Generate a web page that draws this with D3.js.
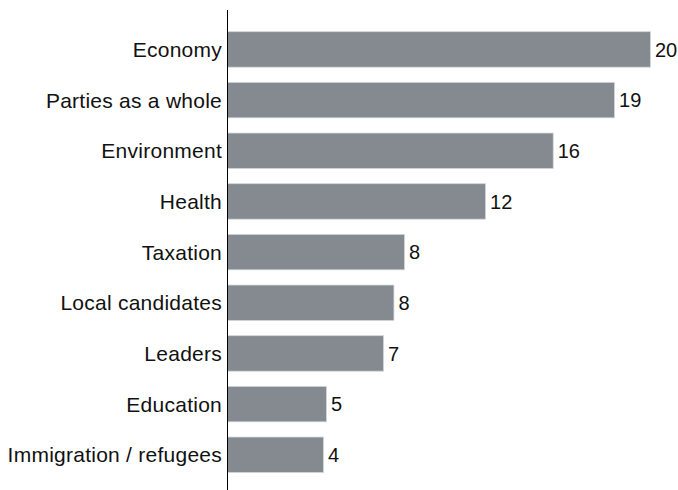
<!DOCTYPE html>
<html lang="en">
<head>
    <meta charset="UTF-8">
    <title>Bar chart</title>
    <script src="https://cdnjs.cloudflare.com/ajax/libs/d3/7.8.5/d3.min.js"></script>
    <style>
        body { margin: 0; background: #fff; }
        text { font-family: "Liberation Sans", Arial, Helvetica, sans-serif; fill: #111; }
    </style>
</head>
<body>
    <div id="grafico"></div>
    <script type="text/javascript">

        // data
        var categories = ["Economy", "Parties as a whole", "Environment", "Health", "Taxation",
                          "Local candidates", "Leaders", "Education", "Immigration / refugees"];
        var values = [20, 18.3, 15.4, 12.2, 8.37, 7.87, 7.38, 4.68, 4.54];
        var valueLabels = ["20", "19", "16", "12", "8", "8", "7", "5", "4"];

        var w = 678;
        var h = 490;
        var x0 = 227.5;

        var xScale = d3.scaleLinear()
                        .domain([0, 20])
                        .range([x0, 650.5]);

        var yScale = d3.scaleBand()
                        .domain(categories)
                        .range([16.5, 487.7])
                        .paddingInner(0.3)
                        .paddingOuter(0.3);

        var grafico = d3.select("#grafico")
                    .append("svg")
                    .attr("width", w)
                    .attr("height", h);

        // bars
        grafico.selectAll("rect")
           .data(values)
           .enter()
           .append("rect")
           .attr("x", xScale(0))
           .attr("y", function(d, i) { return yScale(categories[i]); })
           .attr("width", function(d) { return xScale(d) - xScale(0); })
           .attr("height", yScale.bandwidth())
           .attr("fill", "#858990")
           .attr("stroke", "#d4d6d9")
           .attr("stroke-width", 0.8);

        // axis line
        grafico.append("line")
           .attr("x1", 227).attr("x2", 227)
           .attr("y1", 10).attr("y2", h)
           .attr("stroke", "#000")
           .attr("stroke-width", 1)
           .attr("shape-rendering", "crispEdges");

        // category labels
        grafico.selectAll("text.cat")
           .data(categories)
           .enter()
           .append("text")
           .attr("class", "cat")
           .text(function(d) { return d; })
           .attr("text-anchor", "end")
           .attr("x", 222)
           .attr("y", function(d) { return yScale(d) + yScale.bandwidth() / 2; })
           .attr("dy", "0.36em")
           .attr("font-size", "21px")
           .attr("letter-spacing", "0.25px");

        // value labels
        grafico.selectAll("text.val")
           .data(values)
           .enter()
           .append("text")
           .attr("class", "val")
           .text(function(d, i) { return valueLabels[i]; })
           .attr("x", function(d) { return xScale(d) + 4.5; })
           .attr("y", function(d, i) { return yScale(categories[i]) + yScale.bandwidth() / 2; })
           .attr("dy", "0.36em")
           .attr("font-size", "20px");

    </script>
</body>
</html>
